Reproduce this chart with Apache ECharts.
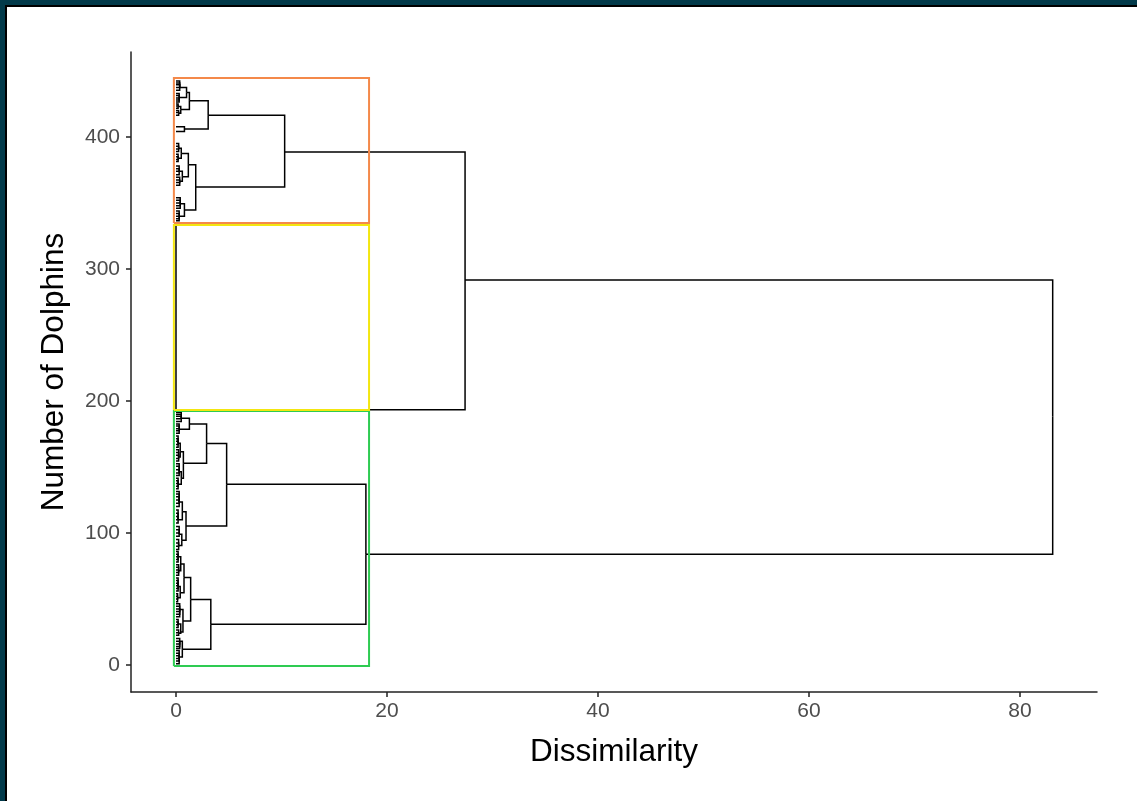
<!DOCTYPE html>
<html><head><meta charset="utf-8">
<script src="https://cdn.jsdelivr.net/npm/echarts@6/dist/echarts.min.js"></script>
<style>
html,body{margin:0;padding:0;background:#fff;}
#chart{position:absolute;left:0;top:0;width:1137px;height:801px;}
.frame{position:absolute;background:#023a4a;}
.edge{position:absolute;background:#000;}
</style></head><body>
<div id="chart"></div>
<div class="frame" style="left:0;top:0;width:1137px;height:5px"></div>
<div class="frame" style="left:0;top:0;width:5px;height:801px"></div>
<div class="edge" style="left:5px;top:5px;width:1132px;height:2px"></div>
<div class="edge" style="left:5px;top:5px;width:2px;height:796px"></div>
<script>
// ---- tick labels ----
const xTicks = [0, 20, 40, 60, 80];
const yTicks = [0, 100, 200, 300, 400];

// ---- dendrogram internal nodes (merge height = dissimilarity, position along leaf axis) ----
const nodeName = [
  'root','G','B','Y','O',
  'O1','O2','O1a','O1b','O1a1','O1a2','O1a1x','O1a1y','O1a2x','O1a2y',
  'O2a','O2b','O2a1','O2a2','O2a1x','O2a1y','O2a2x','O2a2y','O2bx','O2by',
  'G1','G2','G1a','G1b','G1a1','G1a2','G1a1x','G1a1y','G1a2x','G1a2y',
  'G1a2x1','G1a2x2','G1a2y1','G1a2y2','G1bx','G1by','G1bx1','G1bx2','G1by1','G1by2',
  'G2a','G2b','G2a1','G2a2','G2a1x','G2a1y','G2a1x1','G2a1x2','G2a1y1','G2a1y2',
  'G2a2x','G2a2y','G2a2y1','G2a2y2','G2bx','G2by'
];
const nodeParent = [
  '','root','root','B','B',
  'O','O','O1','O1','O1a','O1a','O1a1','O1a1','O1a2','O1a2',
  'O2','O2','O2a','O2a','O2a1','O2a1','O2a2','O2a2','O2b','O2b',
  'G','G','G1','G1','G1a','G1a','G1a1','G1a1','G1a2','G1a2',
  'G1a2x','G1a2x','G1a2y','G1a2y','G1b','G1b','G1bx','G1bx','G1by','G1by',
  'G2','G2','G2a','G2a','G2a1','G2a1','G2a1x','G2a1x','G2a1y','G2a1y',
  'G2a2','G2a2','G2a2y','G2a2y','G2b','G2b'
];
const nodeHeight = [
  83.1, 18.0, 27.4, 0.0, 10.3,
  3.05, 1.87, 1.27, 0.8, 1.0, 0.45, 0.35, 0.3, 0.2, 0.25,
  1.17, 0.8, 0.5, 0.6, 0.25, 0.2, 0.3, 0.35, 0.4, 0.3,
  4.8, 3.3, 2.9, 0.95, 1.27, 0.7, 0.5, 0.3, 0.4, 0.5,
  0.2, 0.25, 0.3, 0.2, 0.6, 0.55, 0.3, 0.2, 0.3, 0.25,
  1.39, 0.6, 0.76, 0.66, 0.45, 0.4, 0.2, 0.25, 0.2, 0.15,
  0.35, 0.45, 0.2, 0.25, 0.35, 0.3
];
const nodePos = [
  188.0, 84.0, 291.7, 193.4, 388.6,
  416.5, 362.1, 427.5, 406.0, 433.8, 420.9, 437.6, 430.0, 423.2, 418.0,
  379.0, 344.7, 387.6, 369.9, 391.5, 384.0, 374.0, 366.5, 349.5, 340.0,
  136.9, 30.9, 167.9, 105.3, 182.6, 152.8, 186.9, 178.6, 161.6, 141.4,
  168.0, 157.5, 146.5, 137.0, 116.1, 94.6, 123.5, 110.0, 99.0, 90.5,
  49.7, 12.0, 66.2, 33.3, 76.5, 54.8, 82.0, 71.5, 59.5, 51.0,
  42.0, 25.0, 31.0, 24.0, 18.0, 6.0
];

// ---- leaves (height 0) ----
const leafParent = [
  'Y','Y',
  'O1a1x','O1a1x','O1a1x','O1a1x','O1a1x',
  'O1a1y','O1a1y','O1a1y','O1a1y','O1a1y',
  'O1a2x','O1a2x','O1a2x','O1a2y','O1a2y','O1a2y','O1b','O1b',
  'O2a1x','O2a1x','O2a1x','O2a1x','O2a1y','O2a1y','O2a1y','O2a1y',
  'O2a2x','O2a2x','O2a2x','O2a2x','O2a2y','O2a2y','O2a2y','O2a2y',
  'O2bx','O2bx','O2bx','O2bx','O2bx','O2by','O2by','O2by','O2by','O2by',
  'G1a1x','G1a1x','G1a1x','G1a1x','G1a1x','G1a1y','G1a1y','G1a1y','G1a1y','G1a1y',
  'G1a2x1','G1a2x1','G1a2x1','G1a2x1','G1a2x1','G1a2x2','G1a2x2','G1a2x2','G1a2x2','G1a2x2',
  'G1a2y1','G1a2y1','G1a2y1','G1a2y1','G1a2y1','G1a2y2','G1a2y2','G1a2y2','G1a2y2','G1a2y2',
  'G1bx1','G1bx1','G1bx1','G1bx1','G1bx1','G1bx1','G1bx2','G1bx2','G1bx2','G1bx2','G1bx2',
  'G1by1','G1by1','G1by1','G1by1','G1by2','G1by2','G1by2','G1by2',
  'G2a1x1','G2a1x1','G2a1x1','G2a1x1','G2a1x1','G2a1x2','G2a1x2','G2a1x2','G2a1x2','G2a1x2',
  'G2a1y1','G2a1y1','G2a1y1','G2a1y1','G2a1y1','G2a1y1','G2a1y2','G2a1y2','G2a1y2','G2a1y2',
  'G2a2x','G2a2x','G2a2x','G2a2x','G2a2x','G2a2x','G2a2y1','G2a2y1','G2a2y1','G2a2y1',
  'G2a2y2','G2a2y2','G2a2y2','G2bx','G2bx','G2bx','G2bx','G2bx',
  'G2by','G2by','G2by','G2by','G2by','G2by'
];
const leafPos = [
  333.2, 193.4,
  442.5, 441.0, 439.5, 437.5, 435.5,
  433.0, 431.5, 429.5, 428.0, 426.5,
  425.0, 423.5, 421.8, 420.0, 418.5, 416.5, 407.8, 404.2,
  395.0, 393.0, 391.0, 389.0, 387.0, 385.0, 383.0, 381.5,
  378.0, 376.0, 374.0, 371.5, 369.5, 367.5, 365.5, 363.5,
  354.0, 352.0, 350.0, 348.0, 346.0, 344.0, 342.0, 340.0, 338.0, 336.5,
  191.5, 190.0, 188.5, 186.5, 184.5, 182.5, 181.0, 179.0, 177.5, 175.5,
  173.5, 171.5, 169.5, 167.0, 165.0, 163.0, 161.0, 159.0, 156.5, 154.5,
  152.5, 150.5, 148.0, 145.5, 143.5, 141.5, 139.5, 137.5, 135.5, 133.5,
  131.5, 129.5, 127.5, 125.0, 122.5, 120.0, 117.5, 115.0, 112.5, 110.0, 107.5,
  105.0, 102.5, 100.0, 97.5, 95.0, 92.5, 90.0, 87.5,
  86.0, 84.0, 82.0, 80.0, 78.0, 76.0, 74.0, 72.0, 70.0, 68.0,
  66.0, 64.0, 62.0, 60.0, 58.0, 56.0, 54.0, 52.0, 50.0, 48.0,
  46.5, 44.5, 42.5, 40.5, 38.5, 36.5, 34.5, 32.5, 30.5, 28.5,
  26.5, 24.5, 22.5, 20.0, 18.0, 16.0, 14.0, 12.5,
  11.0, 9.0, 7.0, 5.0, 3.0, 1.0
];

// ---- k = 3 cluster rectangles ----
const clusterLow  = [-0.8, 193.2, 334.8];
const clusterHigh = [192.4, 333.3, 444.7];
const rectLeft = -0.2;
const rectRight = 18.3;

const clusterColors = ['#2ecb52', '#f3e60f', '#f4894a'];

const index = {};
nodeName.forEach((n, i) => { index[n] = i; });
const elbows = [];
nodeName.forEach((n, i) => {
  const p = nodeParent[i];
  if (!p) return;
  const j = index[p];
  elbows.push({ coords: [[nodeHeight[i], nodePos[i]], [nodeHeight[j], nodePos[i]], [nodeHeight[j], nodePos[j]]] });
});
leafPos.forEach((y, k) => {
  const j = index[leafParent[k]];
  elbows.push({ coords: [[0, y], [nodeHeight[j], y], [nodeHeight[j], nodePos[j]]] });
});
const rects = clusterLow.map((lo, i) => ({
  coords: [[rectLeft, lo], [rectRight, lo], [rectRight, clusterHigh[i]], [rectLeft, clusterHigh[i]], [rectLeft, lo]],
  lineStyle: { color: clusterColors[i] }
}));

const font = 'Liberation Sans, Arial, sans-serif';
const axisCol = '#222222';
const chart = echarts.init(document.getElementById('chart'), null, { renderer: 'canvas' });
chart.setOption({
  backgroundColor: '#ffffff',
  animation: false,
  grid: { left: 131, top: 52, right: 40, bottom: 109, outerBoundsMode: 'none', containLabel: false },
  xAxis: {
    type: 'value', min: -4.265, max: 87.3,
    axisLine: { show: true, onZero: false, lineStyle: { color: axisCol, width: 1.5 } },
    axisTick: { show: true, length: 5, customValues: xTicks, lineStyle: { color: axisCol, width: 1.5 } },
    axisLabel: { customValues: xTicks, color: '#4d4d4d', fontSize: 21, margin: 9, fontFamily: font },
    splitLine: { show: false },
    name: 'Dissimilarity', nameLocation: 'middle', nameGap: 44,
    nameTextStyle: { fontSize: 31.5, color: '#000', fontFamily: font }
  },
  yAxis: {
    type: 'value', min: -20.45, max: 464.4,
    axisLine: { show: true, onZero: false, lineStyle: { color: axisCol, width: 1.5 } },
    axisTick: { show: true, length: 5, customValues: yTicks, lineStyle: { color: axisCol, width: 1.5 } },
    axisLabel: { customValues: yTicks, color: '#4d4d4d', fontSize: 21, margin: 11, fontFamily: font },
    splitLine: { show: false },
    name: 'Number of Dolphins', nameLocation: 'middle', nameGap: 61, nameRotate: 90,
    nameTextStyle: { fontSize: 31.5, color: '#000', fontFamily: font }
  },
  series: [
    {
      type: 'lines', coordinateSystem: 'cartesian2d', polyline: true, silent: true, z: 3,
      data: elbows,
      lineStyle: { color: '#000', width: 1.5, opacity: 1, curveness: 0 }
    },
    {
      type: 'lines', coordinateSystem: 'cartesian2d', polyline: true, silent: true, z: 4,
      data: rects,
      lineStyle: { width: 2, opacity: 1, curveness: 0 }
    }
  ]
});
</script>
</body></html>
